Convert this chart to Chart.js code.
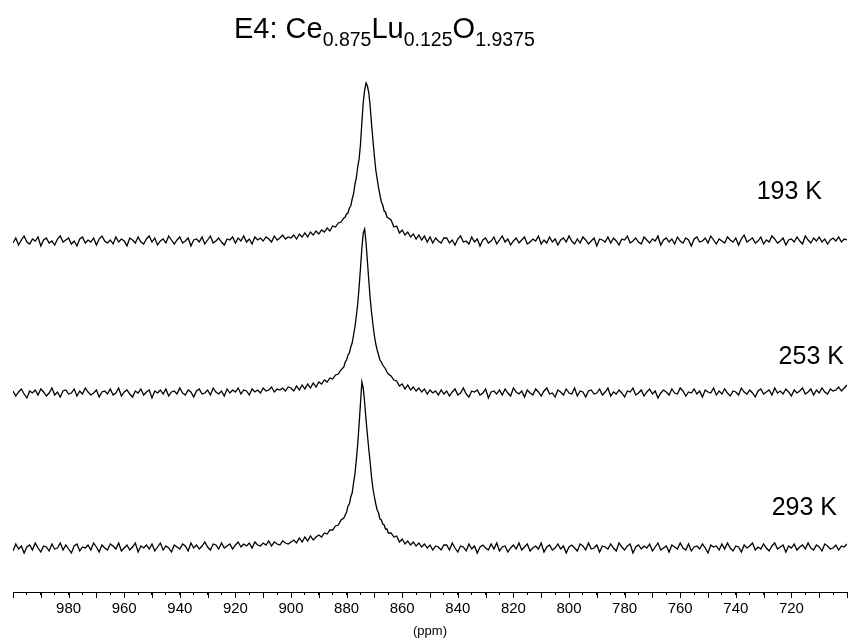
<!DOCTYPE html>
<html>
<head>
<meta charset="utf-8">
<script src="https://cdn.jsdelivr.net/npm/chart.js@4.4.1/dist/chart.umd.min.js"></script>
<style>
  body { margin: 0; background: #fff; }
  #wrap { position: relative; width: 853px; height: 644px; }
  #title {
    position: absolute; left: 234px; top: 14px;
    font-family: Arial, "Liberation Sans", sans-serif;
    font-size: 29px; line-height: 29px; color: #000; white-space: nowrap;
  }
  #title sub { font-size: 19.5px; vertical-align: baseline; position: relative; top: 8px; }
</style>
</head>
<body>
<div id="wrap">
  <canvas id="myChart" width="853" height="644"></canvas>
  <div id="title">E4: Ce<sub>0.875</sub>Lu<sub>0.125</sub>O<sub>1.9375</sub></div>
</div>
<script>
// ppm grid: 1 ppm steps, finer around the peak
const gridSegments = [[1000, 881, 1], [880.5, 865, 0.5], [864, 700, 1]];
const ppm = [];
for (let [from, to, step] of gridSegments) {
  for (let v = from; v >= to - 1e-9; v -= step) ppm.push(+v.toFixed(1));
}

const temps = ['193 K', '253 K', '293 K'];

// intensities (arbitrary units, baseline ~0)
const spec193 = [
  // 1000 .. 901
  -2,3,-4,1,5,-1,-3,2,0,4, -5,1,3,-2,0,-4,2,5,-1,1, 3,-3,0,-5,2,4,-2,1,-1,3, -4,2,5,0,-2,1,-3,4,-1,2,
  0,-5,3,1,-2,4,-1,-3,2,5, -1,3,-4,0,2,-2,5,1,-3,1, 4,-2,0,3,-5,1,2,-1,4,-3, 1,5,-2,0,3,-1,-4,2,1,4,
  -2,3,0,5,-1,2,-3,4,1,3, 0,4,2,-1,5,1,3,6,2,4,
  // 900 .. 881
  3,6,2,7,4,8,4,9,6,10, 7,11,9,13,10,15,14,18,19,23,
  // 880.5 .. 865
  24,27,28,33,35,42,47,57,63,74, 82,97,119,139,151,158,155,148,134,116, 100,85,71,62,53,46,39,36,30,29, 24,23,
  // 864 .. 845
  21,14,15,8,11,6,9,4,7,2, 6,1,5,-1,4,-2,3,0,-2,3,
  // 844 .. 700
  3,-2,1,-4,2,5,-1,0,-3,4, -1,2,-5,1,3,-2,0,4,-3,1, 5,-1,2,-4,0,3,-2,1,4,-3, -1,2,0,5,-3,1,-2,4,-1,2,
  -4,1,3,-1,5,0,-3,2,-2,4, 1,-3,0,3,-5,2,1,-1,4,-2, 3,0,-4,2,1,5,-2,0,3,-1, -3,4,1,-2,2,0,5,-4,1,3,
  -1,2,-3,4,0,-2,3,1,-5,2, 4,-1,0,3,-2,5,1,-3,2,0, -2,4,1,-1,3,-4,2,6,-1,1, 3,-2,0,4,-3,1,-1,5,2,-2,
  0,3,-4,1,2,-1,4,0,-3,5, 1,-2,3,0,4,-1,2,-3,1,3, 0,4,-1,2,1
];

const spec253 = [
  // 1000 .. 901
  2,-3,1,4,-1,-5,2,0,3,-2, 4,1,-3,0,5,-2,1,-4,2,3, -1,0,4,-3,2,-1,5,1,-2,0, 3,-4,1,2,-1,4,-2,0,5,-3,
  1,3,-1,-4,2,0,4,-2,1,3, -5,2,0,3,-1,4,-3,1,2,-1, 5,0,-2,3,1,-4,2,4,-1,0, 3,-2,5,1,-1,2,-3,4,0,3,
  1,5,-1,3,2,-2,4,1,3,0, 5,2,3,6,1,4,3,5,2,6,
  // 900 .. 881
  5,2,7,3,8,4,9,5,10,6, 11,9,13,11,15,14,18,19,23,26,
  // 880.5 .. 865
  31,33,38,40,46,50,58,66,77,89, 106,125,145,160,164,150,131,112,94,80, 68,57,49,43,38,33,31,28,26,24, 21,19,
  // 864 .. 845
  17,13,12,7,9,4,8,3,6,2, 5,1,4,-1,3,0,2,-2,3,-1,
  // 844 .. 700
  2,-3,1,4,-2,0,5,-1,-4,2, 1,3,-2,0,4,-5,1,2,-1,3, -2,4,0,-3,5,1,-1,2,-4,3, 0,-2,4,1,-3,2,5,-1,0,-4,
  3,1,-2,4,0,-1,5,-3,2,1, -4,2,3,-1,0,4,-2,1,5,-3, 1,-1,3,0,-4,2,1,5,-2,0, 3,-3,1,4,-1,2,-5,0,3,1,
  -2,4,0,-1,5,2,-3,1,0,4, -1,2,-4,3,1,0,5,-2,2,-1, 4,0,-3,2,1,-2,5,1,-1,3, 0,-4,2,4,-1,1,3,-2,5,0,
  2,-1,4,1,-3,3,0,2,5,-1, 1,4,-2,3,0,5,1,-1,4,2, 3,6,2,5,8
];

const spec293 = [
  // 1000 .. 901
  -3,4,-1,2,-5,1,3,-2,5,0, -4,2,1,-3,4,-1,0,5,-2,3, -1,-5,2,4,-3,1,0,3,-2,5, 1,-4,3,0,-2,4,2,-1,5,-3,
  0,3,-2,1,5,-4,2,0,3,-1, 4,-3,1,5,-2,2,0,-4,3,1, -1,4,2,-3,5,0,3,-1,2,6, 1,-2,4,3,-1,5,0,2,4,-1,
  3,6,1,4,2,5,0,6,3,2, 5,3,7,2,6,4,3,7,5,4,
  // 900 .. 881
  6,8,5,10,6,11,7,12,8,11, 13,11,15,14,18,18,22,23,28,30,
  // 880.5 .. 865
  33,36,42,44,51,55,65,74,88,104, 124,145,166,160,145,128,113,98,85,70, 59,51,44,38,35,29,28,24,23,19, 19,15,
  // 864 .. 845
  15,11,12,6,9,4,7,3,6,2, 5,1,4,0,3,-2,2,1,-2,3,
  // 844 .. 700
  3,-2,5,0,-4,2,1,-3,4,-1, 2,-5,1,3,0,-2,4,-1,5,-3, 1,2,-4,0,3,-1,5,-2,1,4, -3,0,2,-1,5,-4,1,3,-2,0,
  4,-1,2,-5,1,3,0,-3,4,2, -2,5,-1,0,3,-4,2,1,-1,4, 0,-3,5,1,-2,2,4,-5,1,3, -1,2,0,4,-3,1,5,-2,0,2,
  -4,3,1,-1,5,0,-2,4,-3,1, 2,-1,4,0,-5,3,1,2,-2,4, -1,5,0,-3,2,1,-4,3,0,2, 5,-2,1,-1,4,0,-3,2,5,-1,
  1,3,-4,2,0,4,-2,1,3,-1, 5,0,-2,3,1,-3,4,2,-1,0, 3,-2,2,1,4
];

const xTickLabels = [980, 960, 940, 920, 900, 880, 860, 840, 820, 800, 780, 760, 740, 720];

// vertical stacking of the traces
const spectra = [spec193, spec253, spec293];
const offsets = [307, 155, 0];
const labelSpots = [[732.5, 349], [724.6, 184], [727.1, 33]];

const font = 'Arial, "Liberation Sans", sans-serif';

const datasets = spectra.map((s, k) => ({
  label: temps[k],
  data: ppm.map((x, i) => ({ x: x, y: s[i] + offsets[k] })),
  borderColor: '#000',
  borderWidth: 1.3,
  pointRadius: 0,
  tension: 0,
  fill: false
}));

const extras = {
  id: 'extras',
  afterDraw(chart) {
    const ctx = chart.ctx;
    const xs = chart.scales.x, ys = chart.scales.y;
    ctx.save();
    // longer ticks every 10 ppm
    ctx.strokeStyle = '#000';
    ctx.lineWidth = 1;
    for (let v = 700; v <= 1000; v += 10) {
      const px = Math.round(xs.getPixelForValue(v)) + 0.5;
      ctx.beginPath();
      ctx.moveTo(px, xs.top);
      ctx.lineTo(px, xs.top + 6);
      ctx.stroke();
    }
    // temperature labels
    ctx.fillStyle = '#000';
    ctx.font = '25px ' + font;
    ctx.textAlign = 'left';
    ctx.textBaseline = 'alphabetic';
    labelSpots.forEach((p, k) => {
      ctx.fillText(temps[k], xs.getPixelForValue(p[0]), ys.getPixelForValue(p[1]));
    });
    ctx.restore();
  }
};

new Chart(document.getElementById('myChart'), {
  type: 'line',
  data: { datasets: datasets },
  options: {
    responsive: false,
    animation: false,
    layout: { padding: { left: 13, right: 6, top: 60, bottom: 0 } },
    plugins: { legend: { display: false }, tooltip: { enabled: false } },
    scales: {
      x: {
        type: 'linear',
        reverse: true,
        min: 700,
        max: 1000,
        afterFit(scale) { scale.height = 52; },
        border: { color: '#000', width: 1 },
        grid: { drawOnChartArea: false, drawTicks: true, tickLength: 3, color: '#000' },
        ticks: {
          stepSize: 5,
          autoSkip: false,
          maxRotation: 0,
          padding: 5,
          color: '#000',
          font: { family: font, size: 15 },
          callback: (v) => xTickLabels.includes(v) ? String(v) : ''
        },
        title: {
          display: true,
          text: '(ppm)',
          color: '#000',
          font: { family: font, size: 13 },
          padding: { top: 0, bottom: 5 }
        }
      },
      y: { display: false, min: -44, max: 488 }
    }
  },
  plugins: [extras]
});
</script>
</body>
</html>
